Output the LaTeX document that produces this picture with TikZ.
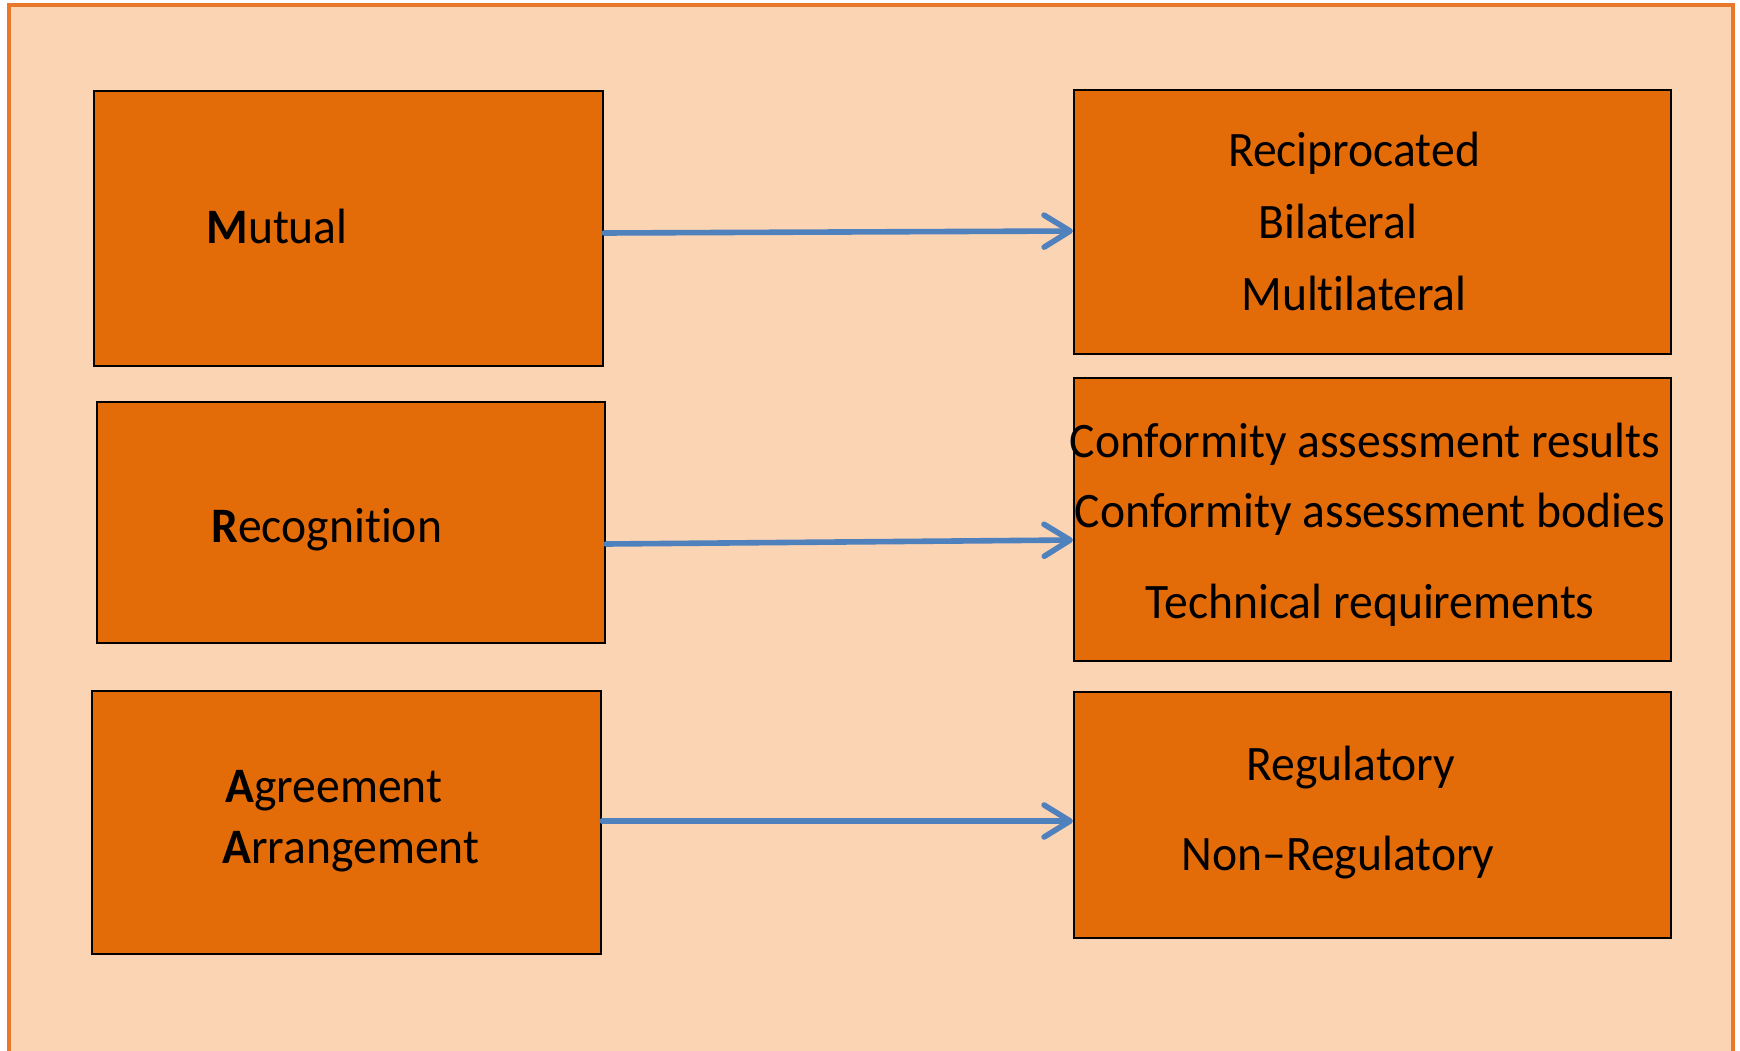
\documentclass[tikz,border=0pt]{standalone}
\usepackage{fontspec}
\setmainfont{Carlito}[Ligatures={NoCommon,NoContextual,NoRare}, FakeStretch=0.96]
\usetikzlibrary{arrows.meta,calc}
\newcommand\nolig{\kern0pt}
\definecolor{peach}{HTML}{FBD4B4}
\definecolor{boxor}{HTML}{E36C09}
\definecolor{frameor}{HTML}{E8782A}
\definecolor{arrblue}{HTML}{4F81BD}
\begin{document}
\begin{tikzpicture}[x=0.5pt,y=-0.5pt,
  box/.style={draw=black, line width=1.1pt, fill=boxor, rectangle, inner sep=0pt},
  lbl/.style={font=\fontsize{24.8}{29}\selectfont, inner sep=0pt, text=black},
  link/.style={draw=arrblue, line width=2.8pt, line cap=round,
    -{Straight Barb[length=13pt,width=16pt,line cap=round,line join=round]}}]
\useasboundingbox (0,0) rectangle (1740,1050);
\clip (0,0) rectangle (1740,1050);
\fill[white] (0,0) rectangle (1740,1050);
\draw[frameor, fill=peach, line width=1.8pt] (9,5) rectangle (1733,1080);
% left boxes
\node[box, minimum width=254.5pt, minimum height=137.5pt] (L1) at (348.5,228.5) {};
\node[box, minimum width=254pt, minimum height=120.5pt] (L2) at (351,522.5) {};
\node[box, minimum width=254.5pt, minimum height=131.5pt] (L3) at (346.5,822.5) {};
% right boxes
\node[box, minimum width=298.5pt, minimum height=132pt] (R1) at (1372.5,222) {};
\node[box, minimum width=298.5pt, minimum height=141.5pt] (R2) at (1372.5,519.5) {};
\node[box, minimum width=298.5pt, minimum height=123pt] (R3) at (1372.5,815) {};
% left labels
\node[lbl, anchor=base west] (tM) at (206,243) {{\bfseries M}utual};
\node[lbl, anchor=base west] (tR) at (211,542) {{\bfseries R}ecognit\nolig ion};
\node[lbl, anchor=base west] (tA1) at (225,802) {{\bfseries A}greement};
\node[lbl, anchor=base west] (tA2) at (222,863) {{\bfseries A}rrangement};
% right labels
\node[lbl, anchor=base] (r1) at (1354,166) {Reciprocated};
\node[lbl, anchor=base] (r2) at (1338,238) {Bilateral};
\node[lbl, anchor=base] (r3) at (1354,310) {Mult\nolig ilateral};
\node[lbl, anchor=base] (c1) at (1365,457) {Conformity assessment results};
\node[lbl, anchor=base] (c2) at (1370,527) {Conformity assessment bodies};
\node[lbl, anchor=base] (c3) at (1370,618) {Technical requirements};
\node[lbl, anchor=base] (g1) at (1351,780) {Regulatory};
\node[lbl, anchor=base] (g2) at (1338,870) {Non–Regulatory};
% arrows
\draw[link] ($(L1.east)+(0,4.5)$) -- ($(R1.west)+(0,9)$);
\draw[link] ($(L2.east)+(0,21.5)$) -- ($(R2.west)+(0,20.5)$);
\draw[link] ($(L3.east)+(0,-1.5)$) -- ($(R3.west)+(0,6)$);
\end{tikzpicture}
\end{document}
